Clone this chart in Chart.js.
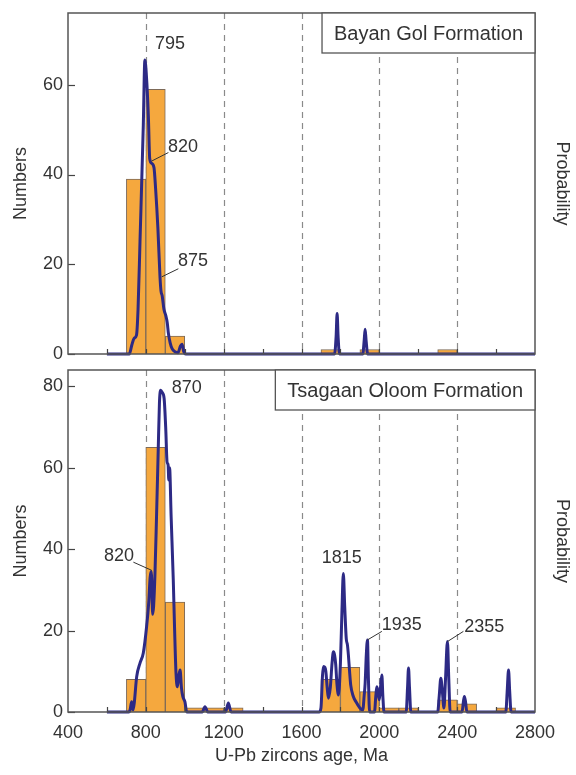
<!DOCTYPE html>
<html>
<head>
<meta charset="utf-8">
<script src="https://cdn.jsdelivr.net/npm/chart.js@4.4.1/dist/chart.umd.min.js"></script>
<style>
  body { margin: 0; background: #fff; }
  #wrap { position: relative; width: 576px; height: 775px; background: #fff; }
  canvas { position: absolute; left: 0; }
  #topChart { top: 0; }
  #bottomChart { top: 365px; }
</style>
</head>
<body>
<div id="wrap">
  <canvas id="topChart" width="576" height="365"></canvas>
  <canvas id="bottomChart" width="576" height="410"></canvas>
</div>
<script>
// Axis ticks
const xTicks = [400, 800, 1200, 1600, 2000, 2400, 2800];
const xMinorTicks = [600, 800, 1000, 1200, 1400, 1600, 1800, 2000, 2200, 2400, 2600];
const dashedAges = [800, 1200, 1600, 2000, 2400];
const yTicksTop = [0, 20, 40, 60];
const yTicksBottom = [0, 20, 40, 60, 80];

// Bayan Gol Formation - histogram (bin mid ages, counts)
const topBinMid = [750, 850, 950, 1750, 1950, 2350];
const topCounts = [39, 59, 4, 1, 1, 1];

// Bayan Gol Formation - probability curve
const topCurveAge = [600, 715, 728, 740, 752, 760, 770, 787, 795, 803, 813, 820, 830, 842, 850, 862, 873, 878, 884, 893, 903, 910, 916, 925, 935, 950, 965, 978, 986, 995, 1005,
  1770, 1778, 1783, 1788, 1795, 1915, 1922, 1927, 1932, 1940, 2800];
const topCurveVal = [0, 0, 2, 3.5, 4.2, 10, 25, 51, 65.5, 62, 53, 43.5, 42.5, 41.5, 37, 28, 17, 14, 13, 10, 8.5, 7, 4.6, 2.5, 1.2, 0.5, 0.3, 1.8, 2.2, 0.5, 0,
  0, 4, 9, 4, 0, 0, 3, 5.5, 3, 0, 0];

// Tsagaan Oloom Formation - histogram
const bottomBinMid = [750, 850, 950, 1050, 1150, 1250, 1750, 1850, 1950, 2050, 2150, 2350, 2450, 2650];
const bottomCounts = [8, 65, 27, 1, 1, 1, 8, 11, 5, 1, 1, 3, 2, 1];

// Tsagaan Oloom Formation - probability curve
const bottomCurveAge = [600, 712, 719, 727, 734, 740, 753, 770, 787, 804, 815, 822, 828, 835, 840, 847, 855, 864, 870, 876, 884, 894, 902, 910, 914, 918, 922, 930, 941, 948, 955, 962, 970, 976, 983, 990, 1001, 1010,
  1090, 1104, 1118, 1210, 1224, 1238,
  1690, 1700, 1708, 1713, 1720, 1725, 1732, 1738, 1748, 1757, 1764, 1770, 1776, 1782, 1790, 1800, 1808, 1815, 1822, 1830, 1836, 1841, 1847, 1853, 1865, 1880, 1900, 1915, 1922, 1927, 1933, 1939, 1944, 1950,
  1975, 1982, 1987, 1993, 2000, 2006, 2013, 2018, 2024,
  2138, 2145, 2150, 2155, 2162,
  2300, 2308, 2316, 2324, 2332, 2340, 2350, 2357, 2364,
  2425, 2432, 2437, 2443, 2450,
  2650, 2657, 2664, 2670, 2677, 2800];
const bottomCurveVal = [0, 0, 0.5, 2.5, 0.5, 2, 8.7, 12, 14.5, 21, 27, 33, 34.5, 24, 26, 34, 48, 65, 76, 79, 78.5, 77, 70, 61, 61, 57, 60, 48, 32.5, 20, 9.6, 6.2, 9, 10.3, 6, 3.8, 2.5, 0,
  0, 1.3, 0, 0, 2.2, 0,
  0, 1, 9, 11.2, 11, 10, 6, 3.4, 6, 12, 14.8, 14, 11.6, 7, 4.2, 12, 25, 34, 26, 18, 16.5, 14, 10, 6.6, 4, 2.5, 1, 0.5, 4, 7, 14, 17.7, 8, 0,
  0, 4, 6.2, 5, 3, 6, 9.1, 4, 0,
  0, 6, 10.8, 6, 0,
  0, 4, 8.3, 5, 1, 8, 17.3, 8, 0,
  0, 2.5, 3.8, 2.5, 0,
  0, 5, 10.3, 5, 0, 0];

// Peak labels: text, position (age, value), optional leader [age1, val1, age2, val2]
const topNotes = [
  ['795', 924, 69, null],
  ['820', 991, 46.2, [830, 43, 916, 44.9]],
  ['875', 1043, 20.7, [882, 17.2, 967, 19]]
];
const bottomNotes = [
  ['870', 1010, 79.6, null],
  ['820', 662, 38.3, [736, 36.8, 830, 34.8]],
  ['1815', 1807, 37.9, null],
  ['1935', 2115, 21.4, [1939, 17.7, 2013, 19.8]],
  ['2355', 2539, 20.9, [2350, 17.3, 2432, 19.8]]
];

const FONT = "'Liberation Sans', Arial, sans-serif";
const TEXT = '#333';
const BAR_FILL = '#F5A83E';
const BAR_EDGE = '#7d6a58';
const CURVE = '#2d2a85';

// Frame, dashed guides, inner ticks, formation box, peak labels
const decorPlugin = {
    id: 'decor',
    beforeDatasetsDraw(chart) {
        const { ctx, chartArea: a, scales: { x } } = chart;
        ctx.save();
        ctx.strokeStyle = '#8a8a8a';
        ctx.lineWidth = 1.2;
        ctx.setLineDash([6, 5]);
        dashedAges.forEach(v => {
            const px = Math.round(x.getPixelForValue(v)) + 0.5;
            ctx.beginPath();
            ctx.moveTo(px, a.top);
            ctx.lineTo(px, a.bottom);
            ctx.stroke();
        });
        ctx.restore();
    },
    afterDatasetsDraw(chart, args, opts) {
        const { ctx, chartArea: a, scales: { x, y } } = chart;
        ctx.save();
        // inner ticks
        ctx.strokeStyle = '#444';
        ctx.lineWidth = 1.2;
        xMinorTicks.forEach(v => {
            const px = Math.round(x.getPixelForValue(v)) + 0.5;
            ctx.beginPath();
            ctx.moveTo(px, a.bottom);
            ctx.lineTo(px, a.bottom - 5);
            ctx.stroke();
        });
        y.ticks.forEach(t => {
            const py = Math.round(y.getPixelForValue(t.value)) + 0.5;
            ctx.beginPath();
            ctx.moveTo(a.left, py);
            ctx.lineTo(a.left + 7, py);
            ctx.stroke();
        });
        // frame
        ctx.strokeStyle = '#555';
        ctx.lineWidth = 1.5;
        ctx.strokeRect(a.left, a.top, a.right - a.left, a.bottom - a.top);

        // formation box
        ctx.font = '20px ' + FONT;
        const w = ctx.measureText(opts.title).width + 24;
        const h = 40;
        ctx.fillStyle = '#fff';
        ctx.fillRect(a.right - w, a.top, w, h);
        ctx.strokeStyle = '#555';
        ctx.lineWidth = 1.3;
        ctx.strokeRect(a.right - w, a.top, w, h);
        ctx.fillStyle = TEXT;
        ctx.textAlign = 'center';
        ctx.textBaseline = 'middle';
        ctx.fillText(opts.title, a.right - w / 2, a.top + h / 2 + 1);

        // peak labels
        ctx.font = '18px ' + FONT;
        ctx.strokeStyle = '#333';
        ctx.lineWidth = 1;
        opts.notes.forEach(([txt, age, val, lead]) => {
            ctx.fillText(txt, x.getPixelForValue(age), y.getPixelForValue(val));
            if (lead) {
                ctx.beginPath();
                ctx.moveTo(x.getPixelForValue(lead[0]), y.getPixelForValue(lead[1]));
                ctx.lineTo(x.getPixelForValue(lead[2]), y.getPixelForValue(lead[3]));
                ctx.stroke();
            }
        });
        ctx.restore();
    }
};

function toPoints(xs, ys) {
    return xs.map((v, i) => ({ x: v, y: ys[i] }));
}

// fixed axis widths, no extra padding from tick labels
function fixWidth(w) {
    return s => {
        s.width = w;
        s.paddingTop = 0;
        s.paddingBottom = 0;
    };
}

function makeChart(id, cfg) {
    return new Chart(document.getElementById(id), {
        data: {
            datasets: [{
                type: 'line',
                data: toPoints(cfg.curveAge, cfg.curveVal),
                borderColor: CURVE,
                borderWidth: 3,
                pointRadius: 0,
                cubicInterpolationMode: 'monotone',
                clip: 4,
                order: 1
            }, {
                type: 'bar',
                data: toPoints(cfg.binMid, cfg.counts),
                backgroundColor: BAR_FILL,
                borderColor: BAR_EDGE,
                borderWidth: 1,
                categoryPercentage: 1,
                barPercentage: 1,
                order: 2
            }]
        },
        options: {
            responsive: false,
            animation: false,
            devicePixelRatio: 1,
            layout: { padding: cfg.padding },
            plugins: {
                legend: { display: false },
                tooltip: { enabled: false },
                decor: { title: cfg.title, notes: cfg.notes }
            },
            scales: {
                x: {
                    type: 'linear',
                    offset: false,
                    min: 400,
                    max: 2800,
                    display: cfg.showX,
                    afterBuildTicks: s => { s.ticks = xTicks.map(v => ({ value: v })); },
                    afterFit: s => { s.height = cfg.showX ? 63 : 0; },
                    grid: { display: false, drawTicks: false, offset: false },
                    border: { display: false },
                    ticks: { color: TEXT, font: { family: FONT, size: 18 }, padding: 10, maxRotation: 0, callback: v => String(v) },
                    title: { display: true, text: 'U-Pb zircons age, Ma', color: TEXT, font: { family: FONT, size: 18 }, padding: { bottom: 8 } }
                },
                y: {
                    type: 'linear',
                    position: 'left',
                    min: 0,
                    max: cfg.yMax,
                    afterBuildTicks: s => { s.ticks = cfg.yTicks.map(v => ({ value: v })); },
                    afterFit: fixWidth(68),
                    grid: { display: false, drawTicks: false },
                    border: { display: false },
                    ticks: { color: TEXT, font: { family: FONT, size: 18 }, padding: 5 },
                    title: { display: true, text: 'Numbers', color: TEXT, font: { family: FONT, size: 18 }, padding: { top: 10 } }
                },
                y2: {
                    type: 'linear',
                    position: 'right',
                    min: 0,
                    max: cfg.yMax,
                    afterFit: fixWidth(41),
                    grid: { display: false, drawTicks: false },
                    border: { display: false },
                    ticks: { display: false },
                    title: { display: true, text: 'Probability', color: TEXT, font: { family: FONT, size: 18 }, padding: { top: 3 } }
                }
            }
        },
        plugins: [decorPlugin]
    });
}

makeChart('topChart', {
    title: 'Bayan Gol Formation',
    notes: topNotes,
    binMid: topBinMid,
    counts: topCounts,
    curveAge: topCurveAge,
    curveVal: topCurveVal,
    yMax: 76,
    yTicks: yTicksTop,
    showX: false,
    padding: { top: 13, bottom: 11, left: 0, right: 0 }
});

makeChart('bottomChart', {
    title: 'Tsagaan Oloom Formation',
    notes: bottomNotes,
    binMid: bottomBinMid,
    counts: bottomCounts,
    curveAge: bottomCurveAge,
    curveVal: bottomCurveVal,
    yMax: 84,
    yTicks: yTicksBottom,
    showX: true,
    padding: { top: 5, bottom: 0, left: 0, right: 0 }
});
</script>
</body>
</html>
